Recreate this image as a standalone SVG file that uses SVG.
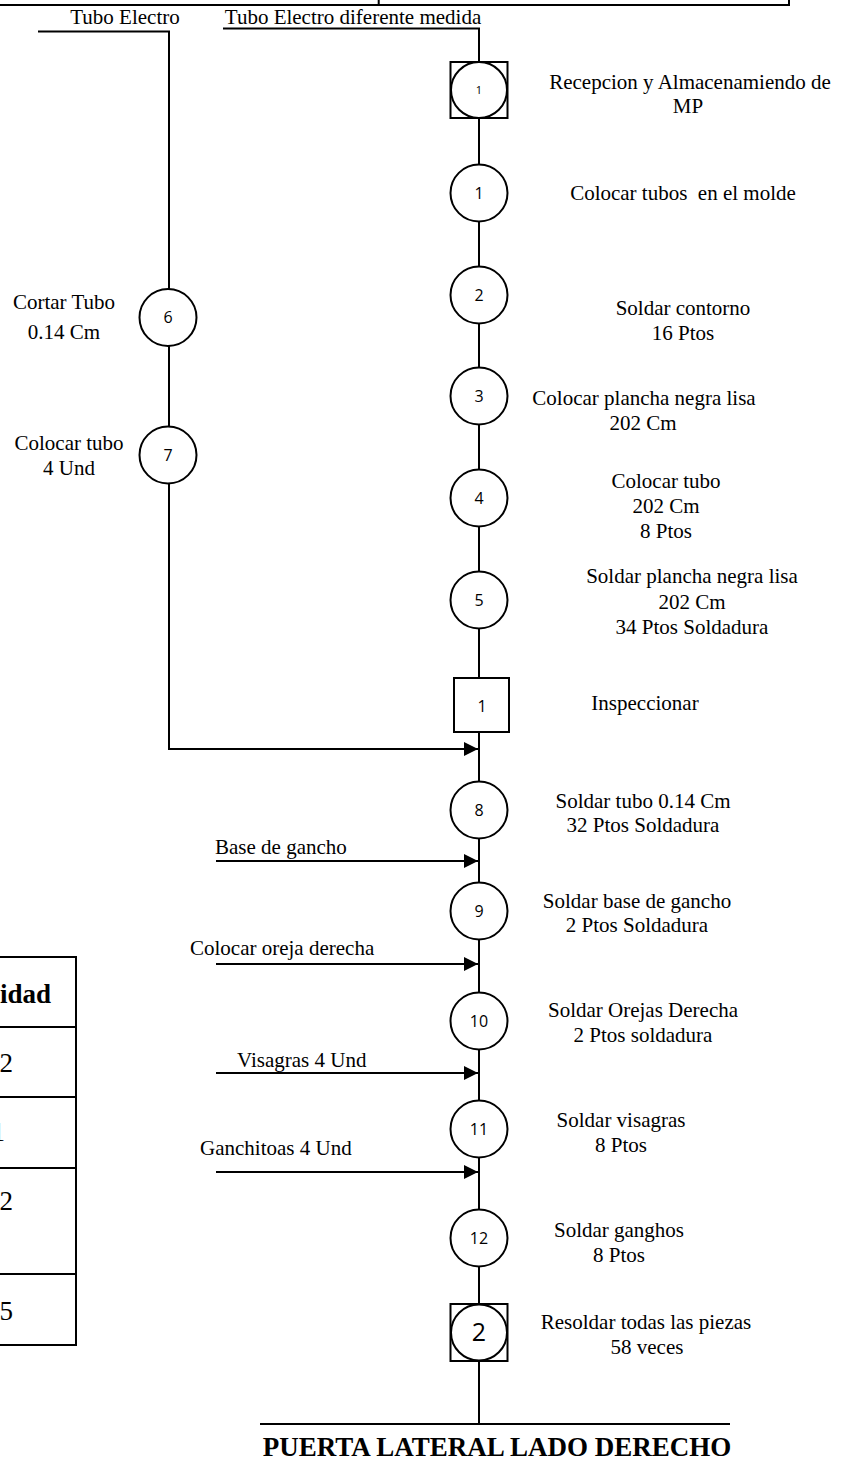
<svg xmlns="http://www.w3.org/2000/svg" width="846" height="1465" viewBox="0 0 846 1465">
<style>
.t{font-family:"Liberation Serif","Times New Roman",serif;font-size:21px;fill:#000}
.m{text-anchor:middle}
.n{font-family:"Open Sans","Noto Sans",sans-serif;font-size:16px;text-anchor:middle;fill:#000}
.b{font-family:"Liberation Serif","Times New Roman",serif;font-weight:bold;fill:#000}
.big{font-size:27px}
.s{fill:#fff;stroke:#000;stroke-width:2}
.l{fill:none;stroke:#000;stroke-width:2}
</style>
<defs>
<marker id="ah" markerWidth="14" markerHeight="14" refX="14" refY="7" orient="auto" markerUnits="userSpaceOnUse">
<path d="M0,0 L14,7 L0,14 Z" fill="#000"/>
</marker>
</defs>
<rect width="846" height="1465" fill="#fff"/>
<g id="frame">
<path class="l" d="M0,5 H789 V0 M378.7,0 V5" stroke-width="2.5"/>
<path class="l" d="M0,957 H76 V1345 H0 M0,1027 H76 M0,1097 H76 M0,1168 H76 M0,1274 H76"/>
<text class="b big" x="51" y="1003" text-anchor="end">idad</text>
<text class="t big" x="13" y="1072" text-anchor="end">2</text>
<text class="t big" x="5" y="1141" text-anchor="end">1</text>
<text class="t big" x="13" y="1210" text-anchor="end">2</text>
<text class="t big" x="13" y="1320" text-anchor="end">5</text>
</g>
<g id="connectors">
<path class="l" d="M38,31.5 H169 V289 M169,346 V427 M169,483 V749 H478" marker-end="url(#ah)"/>
<path class="l" d="M223,28.5 H479 V1424"/>
<path class="l" d="M260,1424 H730"/>
<path class="l" d="M216,861 H478" marker-end="url(#ah)"/>
<path class="l" d="M216,964 H478" marker-end="url(#ah)"/>
<path class="l" d="M216,1073 H478" marker-end="url(#ah)"/>
<path class="l" d="M216,1172 H478" marker-end="url(#ah)"/>
</g>
<g id="labels-in">
<text class="t m" x="125" y="24">Tubo Electro</text>
<text class="t m" x="353" y="24">Tubo Electro diferente medida</text>
<text class="t" x="215" y="854">Base de gancho</text>
<text class="t" x="190" y="955">Colocar oreja derecha</text>
<text class="t" x="237" y="1067">Visagras 4 Und</text>
<text class="t" x="200" y="1155">Ganchitoas 4 Und</text>
</g>
<g id="store1">
<rect class="s" x="450.5" y="62" width="57" height="56"/>
<circle class="s" cx="479" cy="90" r="28"/>
<text class="n" x="479" y="94" style="font-size:11px">1</text>
<text class="t m" x="690" y="89">Recepcion y Almacenamiendo de</text>
<text class="t m" x="688" y="113">MP</text>
</g>
<g id="op1"><circle class="s" cx="479" cy="193" r="28.5"/><text class="n" x="479" y="199">1</text>
<text class="t m" x="683" y="200" style="white-space:pre">Colocar tubos  en el molde</text></g>
<g id="op2"><circle class="s" cx="479" cy="295" r="28.5"/><text class="n" x="479" y="301">2</text>
<text class="t m" x="683" y="315">Soldar contorno</text><text class="t m" x="683" y="340">16 Ptos</text></g>
<g id="op3"><circle class="s" cx="479" cy="396" r="28.5"/><text class="n" x="479" y="402">3</text>
<text class="t m" x="644" y="405">Colocar plancha negra lisa</text><text class="t m" x="643" y="430">202 Cm</text></g>
<g id="op4"><circle class="s" cx="479" cy="498" r="28.5"/><text class="n" x="479" y="504">4</text>
<text class="t m" x="666" y="488">Colocar tubo</text><text class="t m" x="666" y="513">202 Cm</text><text class="t m" x="666" y="538">8 Ptos</text></g>
<g id="op5"><circle class="s" cx="479" cy="600" r="28.5"/><text class="n" x="479" y="606">5</text>
<text class="t m" x="692" y="583">Soldar plancha negra lisa</text><text class="t m" x="692" y="609">202 Cm</text><text class="t m" x="692" y="634">34 Ptos Soldadura</text></g>
<g id="insp1"><rect class="s" x="454" y="678" width="55" height="54"/><text class="n" x="482" y="712">1</text>
<text class="t m" x="645" y="710">Inspeccionar</text></g>
<g id="op6"><circle class="s" cx="168" cy="317.5" r="28.5"/><text class="n" x="168" y="323">6</text>
<text class="t m" x="64" y="309">Cortar Tubo</text><text class="t m" x="64" y="339">0.14 Cm</text></g>
<g id="op7"><circle class="s" cx="168" cy="455" r="28.5"/><text class="n" x="168" y="461">7</text>
<text class="t m" x="69" y="450">Colocar tubo</text><text class="t m" x="69" y="475">4 Und</text></g>
<g id="op8"><circle class="s" cx="479" cy="810" r="28.5"/><text class="n" x="479" y="816">8</text>
<text class="t m" x="643" y="808">Soldar tubo 0.14 Cm</text><text class="t m" x="643" y="832">32 Ptos Soldadura</text></g>
<g id="op9"><circle class="s" cx="479" cy="911" r="28.5"/><text class="n" x="479" y="917">9</text>
<text class="t m" x="637" y="908">Soldar base de gancho</text><text class="t m" x="637" y="932">2 Ptos Soldadura</text></g>
<g id="op10"><circle class="s" cx="479" cy="1021" r="28.5"/><text class="n" x="479" y="1027">10</text>
<text class="t m" x="643" y="1017">Soldar Orejas Derecha</text><text class="t m" x="643" y="1042">2 Ptos soldadura</text></g>
<g id="op11"><circle class="s" cx="479" cy="1129" r="28.5"/><text class="n" x="479" y="1135">11</text>
<text class="t m" x="621" y="1127">Soldar visagras</text><text class="t m" x="621" y="1152">8 Ptos</text></g>
<g id="op12"><circle class="s" cx="479" cy="1238" r="28.5"/><text class="n" x="479" y="1244">12</text>
<text class="t m" x="619" y="1237">Soldar ganghos</text><text class="t m" x="619" y="1262">8 Ptos</text></g>
<g id="store2"><rect class="s" x="450.5" y="1304" width="57" height="57"/><circle class="s" cx="479" cy="1332.5" r="28"/>
<text class="n" x="479" y="1341" style="font-size:25px">2</text>
<text class="t m" x="646" y="1329">Resoldar todas las piezas</text><text class="t m" x="647" y="1354">58 veces</text></g>
<g id="title"><text class="b big" x="497" y="1456" text-anchor="middle">PUERTA LATERAL LADO DERECHO</text></g>
</svg>
